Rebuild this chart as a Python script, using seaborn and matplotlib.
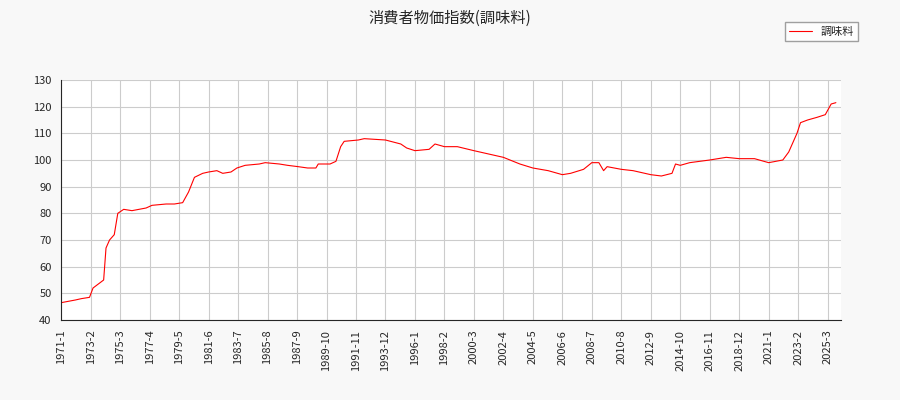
import matplotlib
matplotlib.use("Agg")
import matplotlib.pyplot as plt
import seaborn as sns
import pandas as pd

sns.set_style("white")
plt.rcParams['font.family'] = ['Noto Sans CJK JP', 'DejaVu Sans']

dates = ["1971-1","1972-1","1972-6","1973-1","1973-4","1973-10","1974-1","1974-3","1974-6","1974-10",
 "1975-1","1975-6","1976-1","1977-1","1977-6","1978-6","1979-1","1979-8","1980-1","1980-6",
 "1981-1","1981-6","1982-1","1982-6","1983-1","1983-6","1984-1","1985-1","1985-6","1986-6",
 "1987-1","1987-10","1988-6","1989-1","1989-3","1990-1","1990-6","1990-10","1991-1","1992-1",
 "1992-6","1993-12","1995-1","1995-6","1996-1","1997-1","1997-6","1998-2","1999-1","2000-3",
 "2001-1","2002-4","2003-6","2004-5","2005-6","2006-6","2007-1","2007-12","2008-7","2009-1",
 "2009-5","2009-8","2010-8","2011-6","2012-9","2013-6","2014-3","2014-6","2014-10","2015-6",
 "2016-11","2018-1","2018-12","2020-1","2021-1","2022-1","2022-6","2023-1","2023-4","2023-10",
 "2024-6","2025-1","2025-6","2025-10"]
values = [46.5,47.5,48,48.5,52,54,55,67,70,72,
 80,81.5,81,82,83,83.5,83.5,84,88,93.5,
 95,95.5,96,95,95.5,97,98,98.5,99,98.5,
 98,97.5,97,97,98.5,98.5,99.5,105,107,107.5,
 108,107.5,106,104.5,103.5,104,106,105,105,103.5,
 102.5,101,98.5,97,96,94.5,95,96.5,99,99,
 96,97.5,96.5,96,94.5,94,95,98.5,98,99,
 100,101,100.5,100.5,99,100,103,110,114,115,
 116,117,121,121.5]

def idx(d):
    y, m = d.split("-")
    return (int(y) - 1971) * 12 + int(m) - 1

df = pd.DataFrame({"x": [idx(d) for d in dates], "v": values})

fig, ax = plt.subplots(figsize=(9, 4), dpi=100)
fig.patch.set_facecolor("#f8f8f8")
fig.subplots_adjust(left=0.068, right=0.934, top=0.8, bottom=0.2)
sns.lineplot(data=df, x="x", y="v", color="red", linewidth=0.8, ax=ax, label="調味料")

ticks = list(range(0, 660, 25))
labels = [f"{1971 + t // 12}-{t % 12 + 1}" for t in ticks]
ax.set_xticks(ticks)
ax.set_xticklabels(labels, rotation=90, fontsize=8)
ax.set_xlim(0, 661)
ax.set_ylim(40, 130)
ax.set_yticks(range(40, 131, 10))
ax.tick_params(axis='y', labelsize=8)
ax.grid(True, color="#cccccc", linewidth=0.8)
ax.set_xlabel("")
ax.set_ylabel("")
for s in ["top", "right"]:
    ax.spines[s].set_visible(False)
fig.suptitle("消費者物価指数(調味料)", fontsize=11, y=0.975)
ax.legend(loc="upper right", bbox_to_anchor=(1.03, 1.265), fontsize=8, frameon=True, fancybox=False, edgecolor="#888888")
fig.savefig("out.png")
